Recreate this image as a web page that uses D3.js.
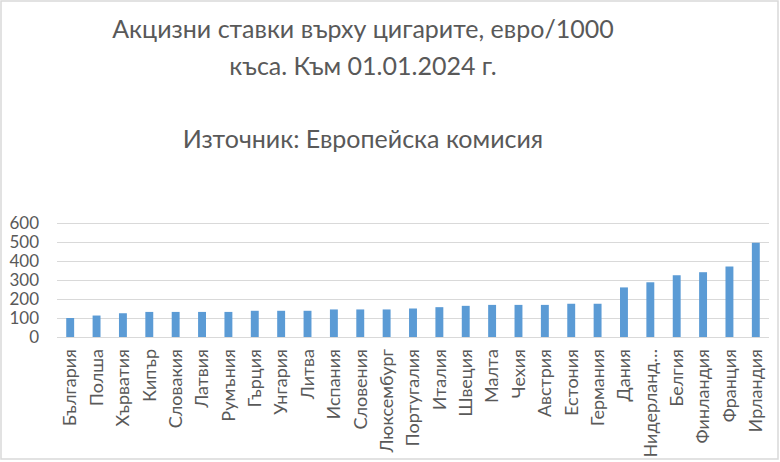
<!DOCTYPE html>
<html><head><meta charset="utf-8">
<script src="https://cdn.jsdelivr.net/npm/d3@7"></script>
<style>body{margin:0;background:#fff}svg{display:block}</style>
</head><body>
<script>
const categories = ["България","Полша","Хърватия","Кипър","Словакия","Латвия","Румъния","Гърция","Унгария","Литва","Испания","Словения","Люксембург","Португалия","Италия","Швеция","Малта","Чехия","Австрия","Естония","Германия","Дания","Нидерланд…","Белгия","Финландия","Франция","Ирландия"];
const values = [100,113,125,132,132,132,132,138,138,138,145,145,145,150,157,164,169,169,169,175,175,261,288,325,341,371,496];
const yTicks = [0,100,200,300,400,500,600];
const titleLines = ["Акцизни ставки върху цигарите, евро/1000","къса. Към 01.01.2024 г.","","Източник: Европейска комисия"];

const W=780,H=462;
const svg=d3.select("body").append("svg").attr("width",W).attr("height",H);
svg.append("rect").attr("x",1).attr("y",1).attr("width",W-3).attr("height",H-4)
  .attr("fill","#fff").attr("stroke","#d9d9d9").attr("stroke-width",1.5);

const font="Lato, 'Open Sans', sans-serif", grey="#595959";
const t=svg.append("text").attr("x",363).attr("y",38).attr("text-anchor","middle")
  .attr("font-family",font).attr("font-size",25).attr("fill",grey);
titleLines.forEach((l,i)=>{ t.append("tspan").attr("x",363).attr("y",38+i*36.5).text(l); });

const x=d3.scaleBand().domain(categories).range([57,769]).paddingInner(0.7).paddingOuter(0.35);
const y=d3.scaleLinear().domain([0,600]).range([337,223]);

const gy=svg.append("g").attr("transform","translate(57,0)")
  .call(d3.axisLeft(y).tickValues(yTicks).tickSize(-712).tickPadding(18));
gy.select(".domain").remove();
gy.selectAll(".tick line").attr("stroke","#d9d9d9").attr("stroke-width",1);
gy.selectAll(".tick text").attr("font-family",font).attr("font-size",17).attr("fill",grey);

svg.append("g").selectAll("rect").data(values).join("rect")
  .attr("x",(d,i)=>x(categories[i])).attr("width",x.bandwidth())
  .attr("y",d=>y(d)).attr("height",d=>y(0)-y(d)).attr("fill","#5b9bd5");

const gx=svg.append("g").attr("transform","translate(0,337)")
  .call(d3.axisBottom(x).tickSize(0).tickPadding(0));
gx.select(".domain").remove();
gx.selectAll(".tick text").attr("font-family",font).attr("font-size",18).attr("fill",grey)
  .attr("transform","rotate(-90)").attr("text-anchor","end").attr("dy","0.35em").attr("x",-12).attr("y",0);
</script>
</body></html>
